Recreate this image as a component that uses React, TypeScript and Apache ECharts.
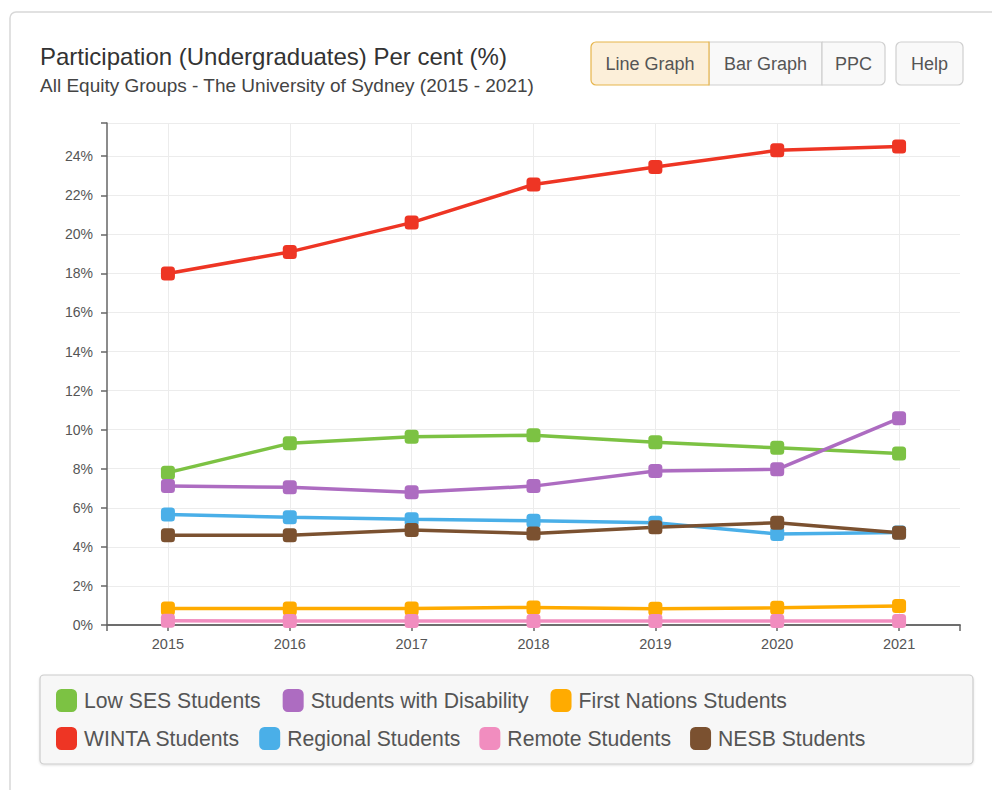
import React, { useEffect, useRef } from "react";
import * as echarts from "echarts";

const years = ["2015", "2016", "2017", "2018", "2019", "2020", "2021"];
const lowSES = [7.8, 9.3, 9.64, 9.72, 9.35, 9.07, 8.78];
const disability = [7.11, 7.05, 6.79, 7.11, 7.88, 7.97, 10.58];
const firstNations = [0.85, 0.85, 0.85, 0.9, 0.83, 0.88, 0.97];
const winta = [18.0, 19.1, 20.6, 22.55, 23.45, 24.3, 24.5];
const regional = [5.66, 5.51, 5.41, 5.34, 5.24, 4.66, 4.74];
const remote = [0.22, 0.2, 0.2, 0.2, 0.2, 0.2, 0.2];
const nesb = [4.6, 4.6, 4.86, 4.69, 5.0, 5.24, 4.72];

const seriesNames = [
  "Low SES Students",
  "Students with Disability",
  "First Nations Students",
  "WINTA Students",
  "Regional Students",
  "Remote Students",
  "NESB Students",
];
const seriesValues = [lowSES, disability, firstNations, winta, regional, remote, nesb];
const seriesColors = ["#7cc243", "#ad6cc1", "#ffab00", "#ee3524", "#4aafe8", "#f18dbf", "#7b5130"];
const legendRow1 = seriesNames.slice(0, 3);
const legendRow2 = seriesNames.slice(3);

const yMin = 0;
const yMax = 25.7;
const yStep = 2;

const titleText = "Participation (Undergraduates) Per cent (%)";
const subtitleText = "All Equity Groups - The University of Sydney (2015 - 2021)";
const buttonLabels = ["Line Graph", "Bar Graph", "PPC", "Help"];

const FONT = "'Helvetica Neue', Helvetica, Arial, 'Liberation Sans', sans-serif";

export default function App() {
  const ref = useRef<HTMLDivElement>(null);
  useEffect(() => {
    if (!ref.current) return;
    const chart = echarts.init(ref.current, null, { renderer: "svg" });

    const btn = (label: string, x: number, w: number, r: any, active: boolean) => ({
      type: "group",
      children: [
        {
          type: "rect",
          shape: { x, y: 42, width: w, height: 43, r },
          style: {
            fill: active ? "#fcefd9" : "#f9f9f9",
            stroke: active ? "#e6b54c" : "#cfcfcf",
            lineWidth: 1.2,
          },
          z: active ? 11 : 10,
        },
        {
          type: "text",
          x: x + w / 2,
          y: 63.5,
          style: {
            text: label,
            fontSize: 18,
            fontFamily: FONT,
            fill: "#555",
            align: "center",
            verticalAlign: "middle",
          },
          z: 12,
        },
      ],
    });

    const legendCommon = {
      left: 56,
      padding: 0,
      itemWidth: 21,
      itemHeight: 23,
      icon: "roundRect",
      textStyle: { fontSize: 21.2, color: "#555", fontFamily: FONT, padding: [0, 0, 0, 2] },
      selectedMode: false,
    };

    const option: any = {
      animation: false,
      textStyle: { fontFamily: FONT },
      title: {
        text: titleText,
        subtext: subtitleText,
        left: 40,
        top: 44,
        padding: 0,
        itemGap: 8,
        textStyle: { fontSize: 24, fontWeight: "normal", color: "#333", fontFamily: FONT },
        subtextStyle: { fontSize: 19, color: "#444", fontFamily: FONT },
      },
      graphic: [
        {
          type: "rect",
          shape: { x: 10, y: 12, width: 990, height: 800, r: 6 },
          style: { fill: "none", stroke: "#d8d8d8", lineWidth: 1.5 },
          z: 0,
        },
        btn(buttonLabels[1], 709, 113, 0, false),
        btn(buttonLabels[2], 822, 63, [0, 5, 5, 0], false),
        btn(buttonLabels[0], 591, 118, [5, 0, 0, 5], true),
        btn(buttonLabels[3], 896, 67, 5, false),
        {
          type: "rect",
          shape: { x: 40, y: 675, width: 933, height: 89, r: 4 },
          style: {
            fill: "#f7f7f7",
            stroke: "#cccccc",
            lineWidth: 1.2,
            shadowColor: "rgba(0,0,0,0.12)",
            shadowBlur: 2,
            shadowOffsetY: 1,
          },
          z: 0,
        },
      ],
      legend: [
        { ...legendCommon, data: legendRow1, top: 689, itemGap: 22 },
        { ...legendCommon, data: legendRow2, top: 727, itemGap: 19 },
      ],
      grid: { left: 107, right: 32, top: 123, bottom: 165, containLabel: false },
      xAxis: [
        {
          type: "category",
          data: years,
          boundaryGap: true,
          axisLine: { show: true, lineStyle: { color: "#666", width: 1.5 } },
          axisTick: { show: true, alignWithLabel: true, length: 6, lineStyle: { color: "#666", width: 1.5 } },
          axisLabel: { fontSize: 14.5, color: "#555", margin: 11, fontFamily: FONT },
          splitLine: { show: true, alignWithLabel: true, lineStyle: { color: "#ececec", width: 1 } },
        },
        {
          type: "value",
          min: 0,
          max: 1,
          interval: 1,
          position: "bottom",
          axisLine: { show: true, lineStyle: { color: "#666", width: 1.5 } },
          axisTick: { show: true, length: 6, lineStyle: { color: "#666", width: 1.5 } },
          axisLabel: { show: false },
          splitLine: { show: false },
        },
      ],
      yAxis: {
        type: "value",
        min: yMin,
        max: yMax,
        interval: yStep,
        axisLine: { show: true, lineStyle: { color: "#666", width: 1.5 } },
        axisTick: { show: true, length: 6, lineStyle: { color: "#666", width: 1.5 } },
        axisLabel: {
          fontSize: 14,
          color: "#555",
          margin: 14,
          fontFamily: FONT,
          formatter: (v: number) => (Math.abs(v % yStep) < 1e-9 ? `${v}%` : ""),
        },
        splitLine: { show: true, lineStyle: { color: "#ececec", width: 1 } },
      },
      series: seriesNames.map((name, i) => ({
        name,
        type: "line",
        xAxisIndex: 0,
        yAxisIndex: 0,
        data: seriesValues[i],
        color: seriesColors[i],
        symbol: "roundRect",
        symbolSize: 14,
        showSymbol: true,
        lineStyle: { width: 3.5, color: seriesColors[i] },
        itemStyle: { color: seriesColors[i] },
        z: 3,
      })),
    };
    chart.setOption(option);
    return () => chart.dispose();
  }, []);
  return (
    <div
      ref={ref}
      style={{ position: "absolute", left: 0, top: 0, width: 992, height: 790 }}
    />
  );
}
